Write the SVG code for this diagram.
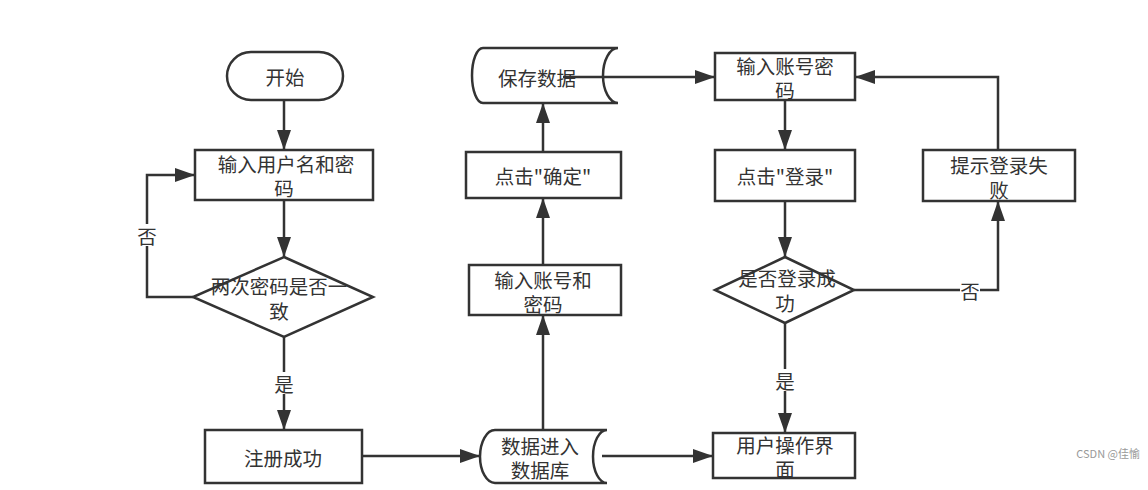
<svg xmlns="http://www.w3.org/2000/svg" width="1148" height="490" viewBox="0 0 1148 490">
<style>
.s{fill:#fff;stroke:#333;stroke-width:2.5}
.t{font-family:"Noto Sans CJK SC","Noto Sans",sans-serif;font-size:19.5px;fill:#333;text-anchor:middle;dominant-baseline:central}
.c{fill:none;stroke:#333;stroke-width:2.5}
.lb{fill:#fff}
</style>
<defs>
<marker id="ah" viewBox="0 0 20 14" markerWidth="20" markerHeight="14" refX="20" refY="7" orient="auto" markerUnits="userSpaceOnUse">
<path d="M0,0 L20,7 L0,14 Z" fill="#333"/>
</marker>
</defs>
<rect width="1148" height="490" fill="#fff"/>
<g id="connectors">
<path class="c" d="M284,100 V150" marker-end="url(#ah)"/>
<path class="c" d="M284,200 V257" marker-end="url(#ah)"/>
<path class="c" d="M193,297 H147 V175 H195" marker-end="url(#ah)"/>
<path class="c" d="M284,337 V430" marker-end="url(#ah)"/>
<path class="c" d="M362,456 H480" marker-end="url(#ah)"/>
<path class="c" d="M543,430 V315" marker-end="url(#ah)"/>
<path class="c" d="M543,265 V198" marker-end="url(#ah)"/>
<path class="c" d="M543,152 V103" marker-end="url(#ah)"/>
<path class="c" d="M602,456 H713" marker-end="url(#ah)"/>
<path class="c" d="M785,100 V150" marker-end="url(#ah)"/>
<path class="c" d="M785,201 V257" marker-end="url(#ah)"/>
<path class="c" d="M854,290 H998 V201" marker-end="url(#ah)"/>
<path class="c" d="M998,150 V77 H855" marker-end="url(#ah)"/>
<path class="c" d="M785,323 V433" marker-end="url(#ah)"/>
<rect class="lb" x="137" y="224" width="20" height="22"/>
<text class="t" x="147" y="235">否</text>
<rect class="lb" x="274" y="372" width="20" height="22"/>
<text class="t" x="284" y="383">是</text>
<rect class="lb" x="775" y="369" width="20" height="22"/>
<text class="t" x="785" y="380">是</text>
<rect class="lb" x="960" y="279" width="20" height="22"/>
<text class="t" x="970" y="290">否</text>
</g>
<g id="start">
<rect class="s" x="227" y="52" width="116" height="48" rx="24"/>
<text class="t" x="285" y="76">开始</text>
</g>
<g id="input1">
<rect class="s" x="195" y="150" width="178" height="50"/>
<text class="t" x="286" y="163">输入用户名和密</text>
<text class="t" x="284" y="187">码</text>
</g>
<g id="check1">
<path class="s" d="M284,257 L373,297 L284,337 L193,297 Z"/>
<text class="t" x="279" y="285">两次密码是否一</text>
<text class="t" x="279" y="310">致</text>
</g>
<g id="reg">
<rect class="s" x="205" y="430" width="157" height="53"/>
<text class="t" x="283" y="457">注册成功</text>
</g>
<g id="db">
<path class="s" d="M495,430 L607,430 A14,26.5 0 0 0 607,483 L495,483 A15,26.5 0 0 1 495,430 Z"/>
<text class="t" x="540" y="445">数据进入</text>
<text class="t" x="540" y="469">数据库</text>
</g>
<g id="input2">
<rect class="s" x="469" y="265" width="152" height="50"/>
<text class="t" x="543" y="279">输入账号和</text>
<text class="t" x="543" y="303">密码</text>
</g>
<g id="confirm">
<rect class="s" x="466" y="152" width="155" height="46"/>
<text class="t" x="543" y="175">点击"确定"</text>
</g>
<g id="save">
<path class="s" d="M483,48 L618,48 A15,27.5 0 0 0 618,103 L483,103 A11,27.5 0 0 1 483,48 Z"/>
<text class="t" x="537" y="77">保存数据</text>
<path class="c" d="M563,77 H715" marker-end="url(#ah)"/>
</g>
<g id="login-input">
<rect class="s" x="715" y="53" width="140" height="47"/>
<text class="t" x="785" y="65">输入账号密</text>
<text class="t" x="785" y="89">码</text>
</g>
<g id="login">
<rect class="s" x="715" y="150" width="140" height="51"/>
<text class="t" x="785" y="175">点击"登录"</text>
</g>
<g id="check2">
<path class="s" d="M785,257 L854,290 L785,323 L715,290 Z"/>
<text class="t" x="787" y="277">是否登录成</text>
<text class="t" x="785" y="302">功</text>
</g>
<g id="fail">
<rect class="s" x="923" y="150" width="152" height="51"/>
<text class="t" x="999" y="164">提示登录失</text>
<text class="t" x="999" y="189">败</text>
</g>
<g id="ui">
<rect class="s" x="713" y="433" width="142" height="45"/>
<text class="t" x="785" y="444">用户操作界</text>
<text class="t" x="785" y="468">面</text>
</g>
<text x="1140" y="453" style="font-family:'Noto Sans CJK SC',sans-serif;font-size:11px;fill:#999;text-anchor:end;dominant-baseline:central">CSDN @佳愉</text>
</svg>
